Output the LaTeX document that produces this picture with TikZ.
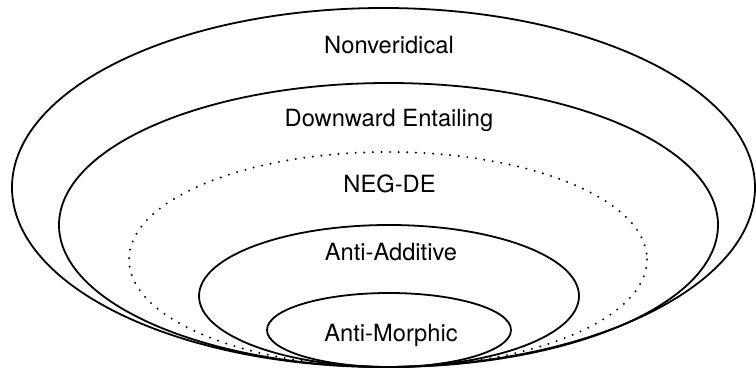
\documentclass[tikz,border=0pt]{standalone}
\usepackage{fontspec}
\setmainfont{TeX Gyre Heros}

\begin{document}
\begin{tikzpicture}[x=1pt,y=-1pt,
  set line/.style={line width=1.8pt},
  dotted line/.style={line width=2.2pt,line cap=round,dash pattern=on 0pt off 8.6pt},
  set label/.style={anchor=base,inner sep=0pt,font=\fontsize{23.7}{28}\selectfont}]
  \useasboundingbox (0,0) rectangle (756,372);

  % nested sets, all touching at the bottom
  \draw[set line] (383.5,187.5) ellipse [x radius=371.5, y radius=179.5];
  \draw[set line] (388.5,225) ellipse [x radius=329.5, y radius=142];
  \draw[dotted line] (388,259.5) ellipse [x radius=259, y radius=107.5];
  \draw[set line] (389,296) ellipse [x radius=190, y radius=71];
  \draw[set line] (389,330) ellipse [x radius=122, y radius=37];

  \node[set label] (nonver) at (389,53) {Nonveridical};
  \node[set label] (downent) at (389,126) {Downward Entailing};
  \node[set label] (negde) at (389.5,192) {NEG-DE};
  \node[set label] (antiadd) at (391,260) {Anti-Additive};
  \node[set label] (antimorph) at (391,341) {Anti-Morphic};
\end{tikzpicture}
\end{document}
